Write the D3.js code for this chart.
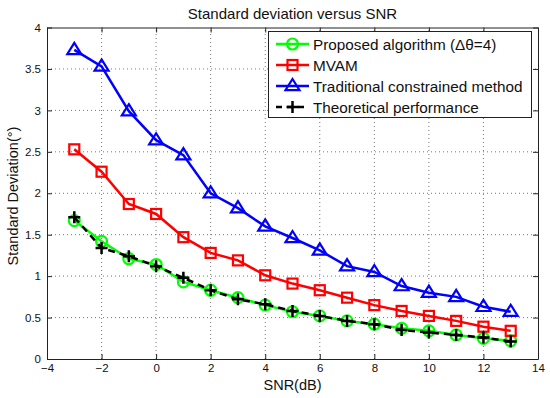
<!DOCTYPE html>
<html>
<head>
<meta charset="utf-8">
<script src="https://cdn.jsdelivr.net/npm/d3@7"></script>
<style>
  body { margin: 0; background: #fff; }
  svg { font-family: "Liberation Sans", Arial, sans-serif; }
</style>
</head>
<body>
<svg id="chart" width="550" height="398"></svg>
<script>
// ==========================================
// DATA
// ==========================================
const snr = [-3, -2, -1, 0, 1, 2, 3, 4, 5, 6, 7, 8, 9, 10, 11, 12, 13];
const proposed = [1.67, 1.42, 1.21, 1.14, 0.93, 0.83, 0.74, 0.65, 0.57, 0.52, 0.46, 0.42, 0.37, 0.34, 0.29, 0.25, 0.22];
const mvam = [2.53, 2.26, 1.87, 1.75, 1.47, 1.28, 1.19, 1.01, 0.91, 0.83, 0.74, 0.65, 0.58, 0.52, 0.46, 0.39, 0.34];
const traditional = [3.73, 3.53, 2.99, 2.64, 2.46, 2.00, 1.82, 1.60, 1.46, 1.31, 1.12, 1.05, 0.88, 0.80, 0.75, 0.63, 0.57];
const theoretical = [1.71, 1.34, 1.24, 1.12, 0.98, 0.83, 0.72, 0.66, 0.58, 0.52, 0.46, 0.42, 0.35, 0.32, 0.29, 0.26, 0.21];

const xTicks = [-4, -2, 0, 2, 4, 6, 8, 10, 12, 14];
const yTicks = [0, 0.5, 1, 1.5, 2, 2.5, 3, 3.5, 4];

const seriesNames = ['Proposed algorithm (\u0394\u03b8=4)', 'MVAM', 'Traditional constrained method', 'Theoretical performance'];

const series = [
  { name: seriesNames[0], values: proposed, color: '#00ff00', marker: 'circle', dash: null },
  { name: seriesNames[1], values: mvam, color: '#ff0000', marker: 'square', dash: null },
  { name: seriesNames[2], values: traditional, color: '#0000ff', marker: 'triangle', dash: null },
  { name: seriesNames[3], values: theoretical, color: '#000000', marker: 'plus', dash: '7,5' }
];

// ==========================================
// LAYOUT
// ==========================================
const margin = { left: 47, top: 27.5, right: 12, bottom: 39 };
const width = 550, height = 398;

const svg = d3.select('#chart');

const x = d3.scaleLinear().domain([-4, 14]).range([margin.left, width - margin.right]);
const y = d3.scaleLinear().domain([0, 4]).range([height - margin.bottom, margin.top]);

// grid
const grid = svg.append('g').attr('stroke', '#555').attr('stroke-width', 0.8).attr('stroke-dasharray', '1,3');
grid.selectAll('.vg').data(xTicks.slice(1, -1)).enter().append('line')
  .attr('x1', d => x(d)).attr('x2', d => x(d))
  .attr('y1', y(0)).attr('y2', y(4));
grid.selectAll('.hg').data(yTicks.slice(1, -1)).enter().append('line')
  .attr('x1', x(-4)).attr('x2', x(14))
  .attr('y1', d => y(d)).attr('y2', d => y(d));

// axes (MATLAB style: ticks inward, box on)
const tickLen = 5;
const axisStyle = g => {
  g.select('.domain').attr('stroke', '#222').attr('stroke-width', 1);
  g.selectAll('.tick line').attr('stroke', '#222');
  g.selectAll('.tick text').attr('fill', '#111').attr('font-size', 11.5);
};

svg.append('g').attr('transform', `translate(0,${y(0)})`)
  .call(d3.axisBottom(x).tickValues(xTicks).tickSize(-tickLen).tickSizeOuter(0).tickPadding(5))
  .call(axisStyle);
svg.append('g').attr('transform', `translate(0,${y(4)})`)
  .call(d3.axisTop(x).tickValues(xTicks).tickSize(-tickLen).tickSizeOuter(0).tickFormat(''))
  .call(axisStyle);
svg.append('g').attr('transform', `translate(${x(-4)},0)`)
  .call(d3.axisLeft(y).tickValues(yTicks).tickSize(-tickLen).tickSizeOuter(0).tickPadding(6).tickFormat(d3.format('')))
  .call(axisStyle);
svg.append('g').attr('transform', `translate(${x(14)},0)`)
  .call(d3.axisRight(y).tickValues(yTicks).tickSize(-tickLen).tickSizeOuter(0).tickFormat(''))
  .call(axisStyle);

// ==========================================
// MARKERS
// ==========================================
function drawMarker(g, type, color, cx, cy) {
  if (type === 'circle') {
    g.append('circle').attr('cx', cx).attr('cy', cy).attr('r', 5.5)
      .attr('fill', 'none').attr('stroke', color).attr('stroke-width', 2.2);
  } else if (type === 'square') {
    g.append('rect').attr('x', cx - 5).attr('y', cy - 5).attr('width', 10).attr('height', 10)
      .attr('fill', 'none').attr('stroke', color).attr('stroke-width', 2.2);
  } else if (type === 'triangle') {
    const r = 7;
    g.append('path')
      .attr('d', `M${cx},${cy - r}L${cx + r},${cy + r * 0.6}L${cx - r},${cy + r * 0.6}Z`)
      .attr('fill', 'none').attr('stroke', color).attr('stroke-width', 2.2);
  } else if (type === 'plus') {
    const r = 6;
    g.append('path')
      .attr('d', `M${cx - r},${cy}H${cx + r}M${cx},${cy - r}V${cy + r}`)
      .attr('stroke', color).attr('stroke-width', 2.5);
  }
}

const line = d3.line().x(d => x(d[0])).y(d => y(d[1]));

series.forEach(s => {
  const pts = snr.map((v, i) => [v, s.values[i]]);
  const g = svg.append('g');
  g.append('path').datum(pts).attr('d', line)
    .attr('fill', 'none').attr('stroke', s.color).attr('stroke-width', 2.5)
    .attr('stroke-dasharray', s.dash);
  pts.forEach(p => drawMarker(g, s.marker, s.color, x(p[0]), y(p[1])));
});

// ==========================================
// LEGEND
// ==========================================
const legend = svg.append('g');
legend.append('rect').attr('x', 268.5).attr('y', 31.5).attr('width', 263).attr('height', 86)
  .attr('fill', '#fff').attr('stroke', '#222').attr('stroke-width', 1);
series.forEach((s, i) => {
  const ly = 44 + i * 21;
  legend.append('line').attr('x1', 276).attr('x2', 309).attr('y1', ly).attr('y2', ly)
    .attr('stroke', s.color).attr('stroke-width', 2.5).attr('stroke-dasharray', s.dash ? '6,5' : null);
  drawMarker(legend, s.marker, s.color, 292.5, ly);
  legend.append('text').attr('x', 313).attr('y', ly).attr('dy', '0.36em')
    .attr('font-size', 15.3).attr('fill', '#111').text(s.name);
});

// titles
svg.append('text').attr('x', (x(-4) + x(14)) / 2).attr('y', 19).attr('text-anchor', 'middle')
  .attr('font-size', 15).attr('fill', '#111').text('Standard deviation versus SNR');
svg.append('text').attr('x', (x(-4) + x(14)) / 2).attr('y', 390).attr('text-anchor', 'middle')
  .attr('font-size', 14.5).attr('fill', '#111').text('SNR(dB)');
svg.append('text').attr('transform', `translate(18,196) rotate(-90)`)
  .attr('text-anchor', 'middle').attr('font-size', 14.5).attr('fill', '#111').text('Standard Deviation(\u00b0)');
</script>
</body>
</html>
